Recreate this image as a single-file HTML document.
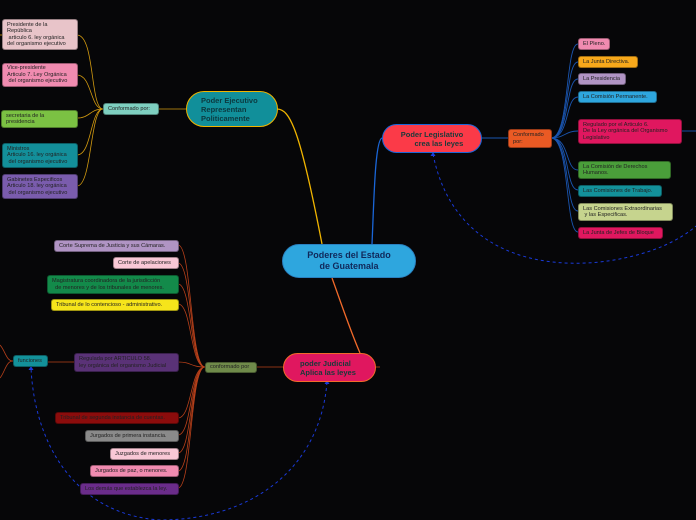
<!DOCTYPE html>
<html><head><meta charset="utf-8"><style>
body{margin:0;width:696px;height:520px;background:#060608;overflow:hidden;position:relative;font-family:"Liberation Sans",sans-serif}
.b{position:absolute;box-sizing:border-box;border-radius:3px;font-size:5.6px;line-height:6.4px;color:#222;padding:1px 4px;display:flex;align-items:center;white-space:pre;border:1px solid rgba(0,0,0,.35)}
.m{position:absolute;box-sizing:border-box;border-radius:18px;font-weight:bold;font-size:8px;line-height:9px;display:flex;align-items:center;white-space:pre}
svg{position:absolute;left:0;top:0}
</style></head><body>
<svg width="696" height="520" fill="none">
<path d="M277 109 C290 109 300 130 322 244" stroke="#f0b400" stroke-width="1.3"/>
<path d="M382 138 C375 140 374 200 372 244" stroke="#1a66d8" stroke-width="1.3"/>
<path d="M332 278 C340 300 350 330 360 353" stroke="#f26a2a" stroke-width="1.3"/>
<g stroke="#d29a10" stroke-width="0.8">
<path d="M186 109 H158"/>
<path d="M103 109 C90 109 95 35 77 35"/><path d="M103 109 C90 109 92 75 77 75"/>
<path d="M103 109 C90 109 90 118 77 118"/><path d="M103 109 C90 109 92 155 77 155"/>
<path d="M103 109 C90 109 92 186 77 186"/><path d="M2 35 H0"/>
</g>
<g stroke="#1a55b0" stroke-width="0.9">
<path d="M481 138 H508"/>
<path d="M551 138 C570 138 565 44 578 44"/><path d="M551 138 C570 138 565 62 578 62"/>
<path d="M551 138 C570 138 565 79 578 79"/><path d="M551 138 C570 138 565 97 578 97"/>
<path d="M551 138 C565 138 565 131 578 131"/><path d="M551 138 C570 138 565 170 578 170"/>
<path d="M551 138 C570 138 565 190 578 190"/><path d="M551 138 C570 138 565 211 578 211"/>
<path d="M551 138 C570 138 565 232 578 232"/><path d="M681 131 H696"/>
</g>
<g stroke="#b8401a" stroke-width="0.8">
<path d="M283 367 H256"/><path d="M375 367 H380"/>
<path d="M205 367 C190 367 192 245 178 245"/><path d="M205 367 C190 367 192 263 178 263"/>
<path d="M205 367 C190 367 192 284 178 284"/><path d="M205 367 C190 367 192 304 178 304"/>
<path d="M205 367 C190 367 192 362 178 362"/><path d="M205 367 C190 367 192 418 178 418"/>
<path d="M205 367 C190 367 192 435 178 435"/><path d="M205 367 C190 367 192 453 178 453"/>
<path d="M205 367 C190 367 192 471 178 471"/><path d="M205 367 C190 367 192 488 178 488"/>
<path d="M74 362 H47"/><path d="M13 361 C6 361 5 350 0 345"/><path d="M13 361 C6 361 5 372 0 378"/>
</g>
<path d="M433 154 C450 240 520 270 600 262 C650 256 680 240 696 226" stroke="#1a3ad8" stroke-width="1" stroke-dasharray="3 3"/>
<path d="M327 382 C320 470 250 520 160 520 C80 515 35 450 31 368" stroke="#1a3ad8" stroke-width="1" stroke-dasharray="3 3"/>
<path d="M433 152 l-2.5 4 h5z M327 380 l-2.5 4 h5z M31 366 l-2.5 4 h5z" fill="#1a3ad8" stroke="none"/>
</svg>

<div class="m" style="left:282px;top:244px;width:134px;height:34px;background:#2ea6de;color:#10285a;justify-content:center;text-align:center;font-size:9px;line-height:11px;border:1px solid #2a80c0">Poderes del Estado
de Guatemala</div>
<div class="m" style="left:186px;top:91px;width:92px;height:36px;background:#118f9a;color:#0c3a40;border:1.5px solid #f0b400;padding-left:14px;font-size:7.5px">Poder Ejecutivo
Representan
Politicamente</div>
<div class="m" style="left:382px;top:124px;width:100px;height:29px;background:#fb3a48;color:#1a3a3a;border:1.5px solid #1a66d8;justify-content:center;text-align:right;font-size:7.5px">Poder Legislativo
      crea las leyes</div>
<div class="m" style="left:283px;top:353px;width:93px;height:29px;background:#e0175f;color:#163a3a;border:1.5px solid #f26a2a;padding-left:16px;font-size:7.5px">poder Judicial
Aplica las leyes</div>

<div class="b" style="left:103px;top:103px;width:56px;height:12px;background:#7ecfc0">Conformado por:</div>
<div class="b" style="left:2px;top:19px;width:76px;height:31px;background:#e8c4c9">Presidente de la
República
 articulo 6. ley orgánica
del organismo ejecutivo</div>
<div class="b" style="left:2px;top:63px;width:76px;height:24px;background:#f08bb0">Vice-presidente
Articulo 7. Ley Orgánica
 del organismo ejecutivo</div>
<div class="b" style="left:1px;top:110px;width:77px;height:18px;background:#7bc143">secretaria de la
presidencia</div>
<div class="b" style="left:2px;top:143px;width:76px;height:25px;background:#138f9a">Ministros
Articulo 16. ley orgánica
 del organismo ejecutivo</div>
<div class="b" style="left:2px;top:174px;width:76px;height:25px;background:#7a5cad">Gabinetes Especificos
Articulo 18. ley orgánica
 del organismo ejecutivo</div>

<div class="b" style="left:508px;top:129px;width:44px;height:19px;background:#ea5a24">Conformado
por:</div>
<div class="b" style="left:578px;top:38px;width:32px;height:12px;background:#f08bb0">El Pleno.</div>
<div class="b" style="left:578px;top:56px;width:60px;height:12px;background:#f7a81b">La Junta Directiva.</div>
<div class="b" style="left:578px;top:73px;width:48px;height:12px;background:#b094c4">La Presidencia</div>
<div class="b" style="left:578px;top:91px;width:79px;height:12px;background:#2ea6de">La Comisión Permanente.</div>
<div class="b" style="left:578px;top:119px;width:104px;height:25px;background:#e0175f">Regulado por el Articulo 6.
De la Ley orgánica del Organismo
Legislativo</div>
<div class="b" style="left:578px;top:161px;width:93px;height:18px;background:#4a9e3a">La Comisión de Derechos
Humanos.</div>
<div class="b" style="left:578px;top:185px;width:84px;height:12px;background:#13919a">Las Comisiones de Trabajo.</div>
<div class="b" style="left:578px;top:203px;width:95px;height:18px;background:#c6d48e">Las Comisiones Extraordinarias
 y las Especificas.</div>
<div class="b" style="left:578px;top:227px;width:85px;height:12px;background:#e0175f">La Junta de Jefes de Bloque</div>

<div class="b" style="left:205px;top:362px;width:52px;height:11px;background:#6f8a4a">conformado por</div>
<div class="b" style="left:54px;top:240px;width:125px;height:12px;background:#b094c4">Corte Suprema de Justicia y sus Cámaras.</div>
<div class="b" style="left:113px;top:257px;width:66px;height:12px;background:#f9c8d6">Corte de apelaciones</div>
<div class="b" style="left:47px;top:275px;width:132px;height:19px;background:#138a4a">Magistratura coordinadora de la jurisdicción
  de menores y de los tribunales de menores.</div>
<div class="b" style="left:51px;top:299px;width:128px;height:12px;background:#f6e51b">Tribunal de lo contencioso - administrativo.</div>
<div class="b" style="left:74px;top:353px;width:105px;height:19px;background:#5a3277">Regulada por ARTICULO 58.
ley orgánica del organismo Judicial</div>
<div class="b" style="left:13px;top:355px;width:35px;height:12px;background:#13919a">funciones</div>
<div class="b" style="left:55px;top:412px;width:124px;height:12px;background:#8b0c0c">Tribunal de segunda instancia de cuentas.</div>
<div class="b" style="left:85px;top:430px;width:94px;height:12px;background:#8a8a8a">Jurgados de primera instancia.</div>
<div class="b" style="left:110px;top:448px;width:69px;height:12px;background:#f9c8d6">Juzgados de menores</div>
<div class="b" style="left:90px;top:465px;width:89px;height:12px;background:#f08bb0">Jurgados de paz, o menores.</div>
<div class="b" style="left:80px;top:483px;width:99px;height:12px;background:#6a2c8a">Los demás que establezca la ley.</div>
</body></html>
